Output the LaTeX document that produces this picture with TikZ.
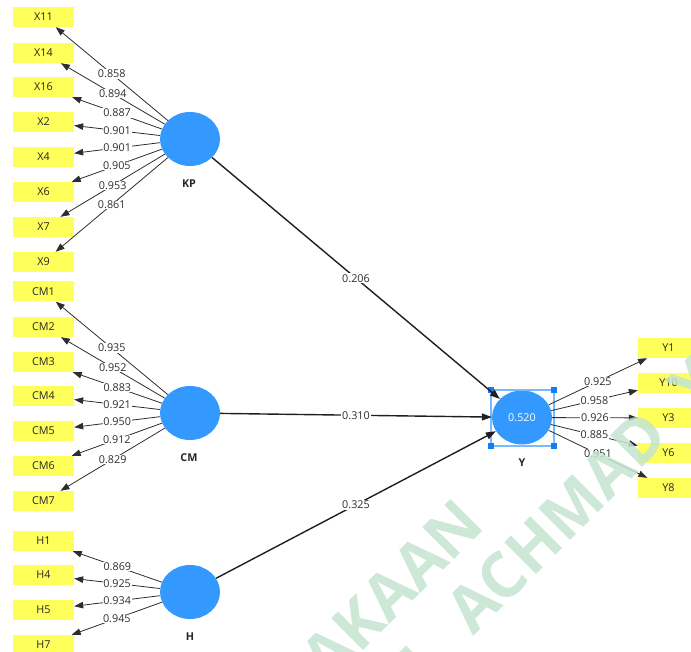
\documentclass[tikz,border=0pt]{standalone}
\usepackage{fontspec}
\setmainfont{Open Sans}
\usetikzlibrary{arrows.meta,shapes.geometric}
\definecolor{itemyellow}{RGB}{255,255,92}
\definecolor{latentblue}{RGB}{51,153,255}
\definecolor{selblue}{RGB}{120,185,255}
\definecolor{handleblue}{RGB}{20,125,245}
\definecolor{wmgreen}{RGB}{196,228,208}
\definecolor{linkgray}{RGB}{45,45,45}

\begin{document}
\begin{tikzpicture}[x=1pt,y=-1pt,
  indicator/.style={fill=itemyellow, minimum width=61pt, minimum height=20pt,
    inner sep=0pt, text=black!85, font=\fontsize{10.8}{12}\selectfont},
  latent/.style={ellipse, fill=latentblue, minimum width=60pt,
    minimum height=54pt, inner sep=0pt},
  lvname/.style={text=black!85, font=\fontsize{10.8}{12}\selectfont\bfseries},
  loading/.style={draw=linkgray, line width=0.8pt,
    -{Triangle[length=9pt,width=6.5pt]}},
  structural/.style={draw=black!88, line width=1.4pt,
    -{Triangle[length=10pt,width=7pt]}},
  coef/.style={fill=white, inner sep=0.8pt, text=black!82,
    font=\fontsize{10.8}{12}\selectfont},
  handle/.style={fill=handleblue, minimum size=6.5pt, inner sep=0pt},
  watermark/.style={text=wmgreen, opacity=0.85, rotate=45,
    font=\fontsize{63}{70}\selectfont\bfseries},
]
\useasboundingbox (0,0) rectangle (691,652);

% latent variables
\node[latent] (KP) at (190,139) {};
\node[latent] (CM) at (190,413) {};
\node[latent] (H)  at (190,592) {};
\node[latent, text=white, font=\fontsize{10.8}{12}\selectfont] (Y) at (522,417.5) {0.520};
\node[lvname] (KPname) at (189,184) {KP};
\node[lvname] (CMname) at (189,458) {CM};
\node[lvname] (Hname)  at (190,637) {H};
\node[lvname] (Yname)  at (522,463) {Y};

% selection frame around Y
\draw[selblue, line width=1.2pt] (491,390) rectangle (554,446);
\node[handle] (h1) at (491,390) {};
\node[handle] (h2) at (554,390) {};
\node[handle] (h3) at (491,446) {};
\node[handle] (h4) at (554,446) {};

% indicators of KP
\foreach \n/\yy in {X11/17, X14/53, X16/87, X2/122, X4/157, X6/192, X7/227, X9/262}
  \node[indicator] (\n) at (43.5,\yy) {\n};
% indicators of CM
\foreach \n/\yy in {CM1/291.5, CM2/327, CM3/362, CM4/396, CM5/431, CM6/466, CM7/501}
  \node[indicator] (\n) at (43.5,\yy) {\n};
% indicators of H
\foreach \n/\yy in {H1/541, H4/575, H5/610, H7/645}
  \node[indicator] (\n) at (43.5,\yy) {\n};
% indicators of Y
\foreach \n/\yy in {Y1/348, Y10/383, Y3/418, Y6/453, Y8/488}
  \node[indicator] (\n) at (668.5,\yy) {\n};

% outer loadings
\foreach \n/\v in {X11/0.858, X14/0.894, X16/0.887, X2/0.901, X4/0.901,
                   X6/0.905, X7/0.953, X9/0.861}
  \draw[loading] (KP) -- node[coef] {\v} (\n);
\foreach \n/\v in {CM1/0.935, CM2/0.952, CM3/0.883, CM4/0.921, CM5/0.950,
                   CM6/0.912, CM7/0.829}
  \draw[loading] (CM) -- node[coef] {\v} (\n);
\foreach \n/\v in {H1/0.869, H4/0.925, H5/0.934, H7/0.945}
  \draw[loading] (H) -- node[coef] {\v} (\n);
\foreach \n/\v in {Y1/0.925, Y10/0.958, Y3/0.926, Y6/0.885, Y8/0.951}
  \draw[loading] (Y) -- node[coef] {\v} (\n);

% path coefficients
\draw[structural] (KP) -- node[coef] {0.206} (Y);
\draw[structural] (CM) -- node[coef] {0.310} (Y);
\draw[structural] (H)  -- node[coef] {0.325} (Y);

% watermark
\node[watermark] (wm1) at (392,590) {AKAAN};
\node[watermark] (wm2) at (424,660) {L};
\node[watermark] (wm3) at (557,522) {ACHMAD};
\node[watermark] (wm4) at (694,384) {Y};
\end{tikzpicture}
\end{document}
